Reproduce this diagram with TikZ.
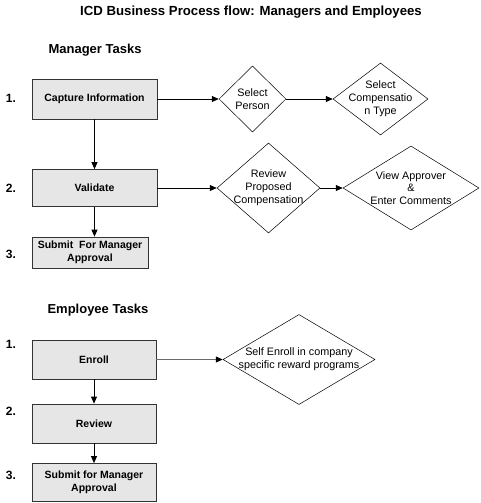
\documentclass[tikz,border=0pt]{standalone}
\usepackage{fontspec}
\setmainfont{Liberation Sans}
\usetikzlibrary{arrows.meta, positioning, shapes.geometric}
\definecolor{boxfill}{HTML}{E6E6E6}
\definecolor{edge}{HTML}{333333}
\definecolor{dimline}{HTML}{6A6A6A}

\begin{document}
\begin{tikzpicture}[x=1pt, y=-1pt,
      box/.style={rectangle, draw=edge, fill=boxfill, line width=0.8pt, inner sep=0pt,
                  align=center, font=\fontsize{10.5}{13.5}\selectfont\bfseries},
      choice/.style={diamond, draw, line width=0.5pt, inner sep=0pt},
      dtext/.style={align=center, font=\fontsize{10.8}{12.8}\selectfont},
      flow/.style={-{Triangle[length=7pt,width=6pt,color=black]}, line width=0.8pt},
      num/.style={font=\fontsize{12}{14}\selectfont\bfseries},
      head/.style={anchor=west, font=\fontsize{13}{15}\selectfont\bfseries}]
  \useasboundingbox (0,0) rectangle (480,503);

  \node[font=\fontsize{13.2}{15}\selectfont\bfseries] (title) at (251,12)
    {ICD Business Process flow: Managers and Employees};

  % manager tasks
  \node[head] (mhead) at (45,50) {Manager Tasks};
  \foreach \y/\lab/\nm in {98/1/m1,188/2/m2,254/3/m3}
    \node[num] (\nm) at (11,\y) {\lab.};
  \node[box, minimum width=125pt, minimum height=40pt] (cap) at (94.5,99) {Capture Information};
  \node[box, minimum width=125pt, minimum height=37pt] (val) at (94.5,188) {Validate};
  \node[box, minimum width=116pt, minimum height=31pt] (subm) at (90,252.5) {Submit\ \ For Manager\\Approval};

  \node[choice, minimum width=67pt, minimum height=66pt,
        label={[dtext]center:Select\\Person}] (selp) at (252.5,99) {};
  \node[choice, minimum width=95pt, minimum height=72pt,
        label={[dtext]center:Select\\Compensatio\\n Type}] (selc) at (380.5,99) {};
  \node[choice, minimum width=103pt, minimum height=90pt,
        label={[dtext]center:Review\\Proposed\\Compensation}] (revd) at (268.5,188) {};
  \node[choice, minimum width=136pt, minimum height=84pt,
        label={[dtext]center:View Approver\\\&\\Enter Comments}] (viewd) at (411,188) {};

  \draw[flow] (cap) -- (val);
  \draw[flow] (val.south) -- (val.south |- subm.north);
  \draw[flow] (cap) -- (selp);
  \draw[flow] (selp) -- (selc);
  \draw[flow] (val) -- (revd);
  \draw[flow] (revd) -- (viewd);

  % employee tasks
  \node[head] (ehead) at (44,310) {Employee Tasks};
  \foreach \y/\lab/\nm in {344/1/e1,411/2/e2,475/3/e3}
    \node[num] (\nm) at (11,\y) {\lab.};
  \node[box, minimum width=124pt, minimum height=39pt] (enr) at (94,359.5) {Enroll};
  \node[box, minimum width=124pt, minimum height=39pt] (rev) at (94,423.5) {Review};
  \node[box, minimum width=124pt, minimum height=38pt] (sube) at (94,482.5) {Submit for Manager\\Approval};

  \node[choice, minimum width=152pt, minimum height=90pt,
        label={[dtext]center:Self Enroll in company\\specific reward programs}] (selfd) at (299,359.5) {};

  \draw[flow] (enr) -- (rev);
  \draw[flow] (rev) -- (sube);
  \draw[flow, draw=dimline] (enr) -- (selfd);
\end{tikzpicture}
\end{document}
